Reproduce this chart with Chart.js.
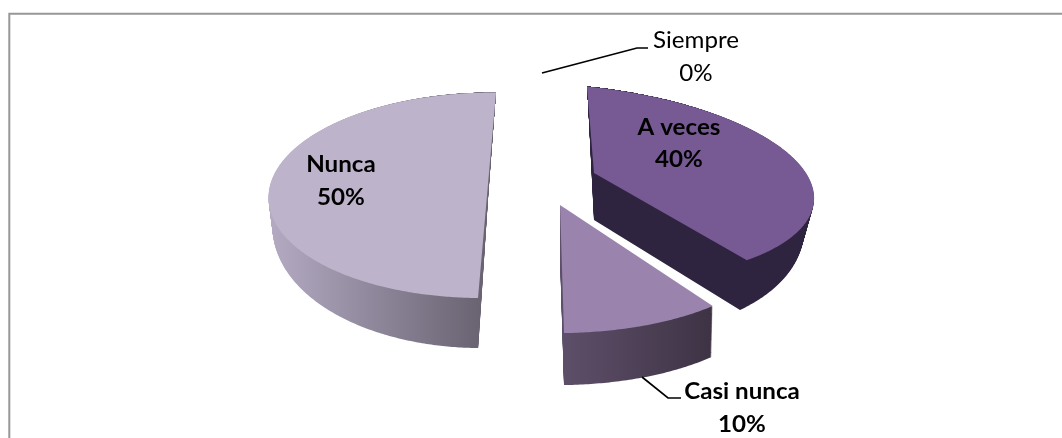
<!DOCTYPE html>
<html><head><meta charset="utf-8">
<style>html,body{margin:0;padding:0;background:#fff}#w{position:absolute;left:0;top:0;width:1062px;height:438px}</style>
<script src="https://cdn.jsdelivr.net/npm/chart.js@4"></script>
</head><body><div id="w"><canvas id="c"></canvas></div>
<script>
const categories = ['Siempre', 'A veces', 'Casi nunca', 'Nunca'];
const values = [0, 40, 10, 50];
const topColors = ['#5f4a78', '#775a93', '#9a84ae', '#bdb3cb'];
const boldLabels = [false, true, true, true];

// per-slice projection of the flat pie into the tilted, exploded view:
// apex position, plane axes R and D, perspective g/h, extrusion depth, depth falloff fc/f0/f1, inward taper and wall colours
const views = [
  null,
  {ax:594, ay:173, R:[245.5,14], D:[7.8,96], g:.126, h:-.11, depth:47, fc:1, f0:.55, f1:.63, k:.045, wall:['#2e2440','#2e2440'], span:[594,812]},
  {ax:560, ay:205, R:[251,12.4], D:[3.6,114], g:.126, h:-.11, depth:52, fc:1, f0:.9, f1:.1, k:.008, wall:['#5d4f69','#3e3345'], span:[563,712]},
  {ax:488, ay:184, R:[217,2], D:[-8.9,101.5], g:0, h:-.11, depth:50, fc:.3, f0:.5, f1:.5, k:.018, wall:['#b4abc3','#696372'], span:[270,480]}
];
const labelPos = [
  {x:696, y:41, y2:74},{x:679, y:128, y2:160},{x:742, y:392, y2:425},{x:341, y:165, y2:198}
];
const leaders = [
  [[542,73],[637,48],[648,48]],
  null,
  [[642,377],[668,398],[681,398]],
  null
];

function projector(ctx, arc, v, t, forced){
  const R0 = arc.outerRadius || 1;
  const taper = 1 - v.k*t;
  const map = (x,y)=>{
    const u=(x-arc.x)/R0, w=(y-arc.y)/R0, d=1+v.g*u+v.h*w;
    const r=Math.min(1,Math.hypot(u,w));
    const f=Math.max(0,(1-r)*v.fc+r*(v.f0+v.f1*w));
    return [v.ax+taper*(v.R[0]*u+v.D[0]*w)/d, v.ay+t*v.depth*f+(v.R[1]*u+v.D[1]*w)/d];
  };
  let started=false;
  const put=(x,y)=>{const p=map(x,y); if(started)ctx.lineTo(p[0],p[1]); else {ctx.moveTo(p[0],p[1]);started=true;}};
  return {
    fillStyle:null,strokeStyle:null,lineWidth:0,lineJoin:'round',
    save(){},restore(){},translate(){},setLineDash(){},clip(){},stroke(){},
    beginPath(){ctx.beginPath();started=false;},
    moveTo(x,y){put(x,y);},lineTo(x,y){put(x,y);},closePath(){ctx.closePath();},
    arc(x,y,r,s,e,ccw){
      const n=Math.max(2,Math.ceil(Math.abs(e-s)/0.01));
      for(let i=0;i<=n;i++){const a=s+(e-s)*i/n;put(x+r*Math.cos(a),y+r*Math.sin(a));}
    },
    fill(){ctx.fillStyle=forced||this.fillStyle;ctx.fill();}
  };
}

const pie3d = {
  id:'pie3d',
  beforeDatasetsDraw(chart){
    const ctx=chart.ctx, arcs=chart.getDatasetMeta(0).data;
    [3,1,2].forEach(i=>{
      const v=views[i], arc=arcs[i];
      const g=ctx.createLinearGradient(v.span[0],0,v.span[1],0);
      g.addColorStop(0,v.wall[0]);g.addColorStop(1,v.wall[1]);
      for(let s=v.depth;s>=1;s--) arc.draw(projector(ctx,arc,v,s/v.depth,g));
      arc.draw(projector(ctx,arc,v,0,null));
    });
    return false;
  },
  afterDraw(chart){
    const ctx=chart.ctx;
    ctx.save();
    // frame
    ctx.strokeStyle='#979797';ctx.lineWidth=2;
    ctx.beginPath();ctx.moveTo(9.3,438);ctx.lineTo(9.3,13.7);ctx.lineTo(1062,13.7);ctx.stroke();
    // leaders
    ctx.strokeStyle='#000';ctx.lineWidth=1.7;
    leaders.forEach(l=>{if(!l)return;ctx.beginPath();l.forEach((p,k)=>k?ctx.lineTo(p[0],p[1]):ctx.moveTo(p[0],p[1]));ctx.stroke();});
    // labels
    const total=values.reduce((a,b)=>a+b,0);
    ctx.fillStyle='#000';ctx.textAlign='center';ctx.textBaseline='middle';
    const put=(t,x,y)=>{ctx.save();ctx.translate(x,y);ctx.scale(1.05,1);ctx.fillText(t,0,0);ctx.restore();};
    categories.forEach((c,i)=>{
      const p=labelPos[i];
      ctx.font=(boldLabels[i]?'bold ':'')+'23px Lato, "Open Sans", sans-serif';
      put(c,p.x,p.y);
      put(Math.round(values[i]/total*100)+'%',p.x,p.y2);
    });
    ctx.restore();
  }
};

new Chart(document.getElementById('c'),{
  type:'pie',
  data:{labels:categories,datasets:[{data:values,backgroundColor:topColors,borderWidth:0}]},
  options:{responsive:true,maintainAspectRatio:false,animation:false,
    plugins:{legend:{display:false},tooltip:{enabled:false}}},
  plugins:[pie3d]
});
</script></body></html>
